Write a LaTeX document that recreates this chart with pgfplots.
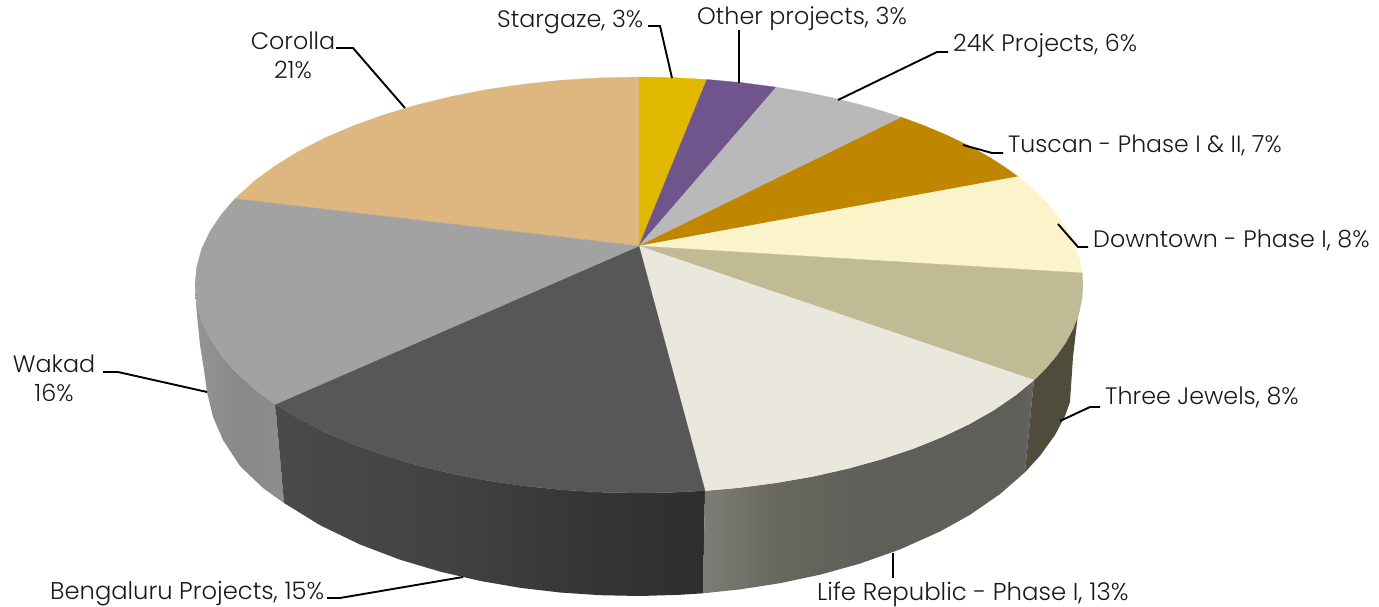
\documentclass[border=0pt]{standalone}
\usepackage{fontspec}
\setmainfont{Poppins}[UprightFont=* Light]
\usepackage{pgfplots}
\pgfplotsset{compat=1.18}
\definecolor{cY}{HTML}{E0B800}
\definecolor{cP}{HTML}{70548C}
\definecolor{cG}{HTML}{B9B9B9}
\definecolor{cB}{HTML}{C08600}
\definecolor{cC}{HTML}{FBF3C9}
\definecolor{cK}{HTML}{C0BB95}
\definecolor{cL}{HTML}{EAE8DD}
\definecolor{cD}{HTML}{575757}
\definecolor{cW}{HTML}{A2A2A2}
\definecolor{cT}{HTML}{DEB680}
\definecolor{cJ}{HTML}{4F4C3C}
\definecolor{wa}{HTML}{949494}\definecolor{wb}{HTML}{888888}\definecolor{wc}{HTML}{8E8E8E}
\definecolor{ba}{HTML}{4A4A4A}\definecolor{bb}{HTML}{424242}\definecolor{bc}{HTML}{353535}\definecolor{bd}{HTML}{2E2E2E}
\definecolor{la}{HTML}{7D7D75}\definecolor{lb}{HTML}{68685F}\definecolor{lc}{HTML}{5E5F59}\definecolor{ld}{HTML}{666664}
\pgfdeclarehorizontalshading{wakS}{100bp}{color(0bp)=(wa);color(25bp)=(wa);color(50bp)=(wb);color(75bp)=(wc);color(100bp)=(wc)}
\pgfdeclarehorizontalshading{benS}{100bp}{color(0bp)=(ba);color(25bp)=(ba);color(45bp)=(bb);color(62bp)=(bc);color(75bp)=(bd);color(100bp)=(bd)}
\pgfdeclarehorizontalshading{lifS}{100bp}{color(0bp)=(la);color(25bp)=(la);color(36bp)=(lb);color(50bp)=(lc);color(73bp)=(lc);color(75bp)=(ld);color(100bp)=(ld)}
\tikzset{lead/.style={black,line width=1.9pt,no markers},
 lab/.style={anchor=base west,inner sep=0pt,font=\fontsize{23.8}{27}\selectfont,text=black!90},
 labc/.style={anchor=base,inner sep=0pt,font=\fontsize{23.8}{27}\selectfont,text=black!90}}
\begin{document}
\begin{tikzpicture}
\useasboundingbox (0,0) rectangle (1379pt,607pt);
\begin{axis}[scale only axis,width=1379pt,height=607pt,xmin=0,xmax=1379,ymin=0,ymax=607,y dir=reverse,hide axis,clip=false,at={(0,0)},anchor=south west]
% sides
\addplot[draw=none,shade,shading=wakS] coordinates {(195,290)(196.7,303.1)(201.7,321.1)(210.1,338.8)(221.8,356.1)(236.6,372.9)(254.5,389)(275.3,404.3)(284,503)(263,488)(240,466)(223,440)(213,417)(207,392)(204,370)(200,345)(197,315)} --cycle;
\addplot[draw=none,shade,shading=benS] coordinates {(275.3,404.3)(298.9,418.7)(325,432.1)(353.6,444.3)(384.3,455.4)(417,465.1)(451.4,473.5)(487.2,480.5)(524.1,485.9)(561.9,489.8)(600.3,492.2)(639,493)(670,492.5)(705,490.7)(703,593.3)(680,594.8)(640,596)(600,595.2)(560,592.5)(520,587.8)(480,580.9)(440,571.6)(400,559.7)(360,544.5)(320,525.2)(284,503)} --cycle;
\addplot[draw=none,shade,shading=lifS] coordinates {(705,490.7)(738.9,487.7)(776.2,482.8)(812.5,476.5)(847.5,468.6)(880.8,459.4)(912.4,448.9)(941.8,437.1)(968.9,424.2)(993.6,410.2)(1015.5,395.2)(1033.9,380.1)(1025,472.2)(1000,494.1)(970,514.8)(940,531.5)(900,549.4)(860,563.6)(820,574.7)(780,583.2)(740,589.4)(703,593.3)} --cycle;
\addplot[draw=none,fill=cJ] coordinates {(1080,305)(1078.7,314)(1073.3,328.2)(1065.8,342.3)(1056.2,356.1)(1044.6,369.6)(1033.9,380.1)(1025,472.2)(1040,455.8)(1055,435)(1065,416)(1070,402)(1073,357)(1078,314)} --cycle;
% top wedges
\addplot[draw=cT,line width=.3pt,fill=cT] coordinates {(639,246)(235,198.7)(254.5,181)(275.3,165.7)(298.9,151.3)(325,137.9)(353.6,125.7)(384.3,114.6)(417,104.9)(451.4,96.5)(487.2,89.5)(524.1,84.1)(561.9,80.2)(600.3,77.8)(639,77)} --cycle;
\addplot[draw=cY,line width=.3pt,fill=cY] coordinates {(639,246)(639,77)(673.1,77.6)(706.9,79.5)} --cycle;
\addplot[draw=cP,line width=.3pt,fill=cP] coordinates {(639,246)(706.9,79.5)(741.9,82.7)(776.2,87.2)} --cycle;
\addplot[draw=cG,line width=.3pt,fill=cG] coordinates {(639,246)(776.2,87.2)(805.3,92.1)(833.6,98)(861,104.9)(880.8,110.6)(901.8,117.4)} --cycle;
\addplot[draw=cB,line width=.3pt,fill=cB] coordinates {(639,246)(901.8,117.4)(924.4,125.7)(947.4,135.4)(968.9,145.8)(988.9,156.9)(1004.9,167.2)(1018,176.6)} --cycle;
\addplot[draw=cC,line width=.3pt,fill=cC] coordinates {(639,246)(1018,176.6)(1034.6,190.6)(1047.7,203.7)(1058.8,217.3)(1067.9,231.2)(1074.8,245.3)(1079.7,259.6)(1082.3,273)} --cycle;
\addplot[draw=cK,line width=.3pt,fill=cK] coordinates {(639,246)(1082.3,273)(1083,285)(1081.9,299.5)(1078.7,314)(1073.3,328.2)(1065.8,342.3)(1056.2,356.1)(1044.6,369.6)(1033.9,380.1)} --cycle;
\addplot[draw=cL,line width=.3pt,fill=cL] coordinates {(639,246)(1033.9,380.1)(1015.5,395.2)(993.6,410.2)(968.9,424.2)(941.8,437.1)(912.4,448.9)(880.8,459.4)(847.5,468.6)(812.5,476.5)(776.2,482.8)(738.9,487.7)(705,490.7)} --cycle;
\addplot[draw=cD,line width=.3pt,fill=cD] coordinates {(639,246)(705,490.7)(670,492.5)(639,493)(600.3,492.2)(561.9,489.8)(524.1,485.9)(487.2,480.5)(451.4,473.5)(417,465.1)(384.3,455.4)(353.6,444.3)(325,432.1)(298.9,418.7)(275.3,404.3)} --cycle;
\addplot[draw=cW,line width=.3pt,fill=cW] coordinates {(639,246)(275.3,404.3)(254.5,389)(236.6,372.9)(221.8,356.1)(210.1,338.8)(201.7,321.1)(196.7,303.1)(195,285)(196.7,266.9)(201.7,248.9)(210.1,231.2)(221.8,213.9)(235,198.7)} --cycle;
% leader lines
\addplot[lead] coordinates {(648,26)(660,26)(672,78)};
\addplot[lead] coordinates {(739,30)(739,83)};
\addplot[lead] coordinates {(948,52)(937,52)(838,100)};
\addplot[lead] coordinates {(1003,153)(992,153)(963,145)};
\addplot[lead] coordinates {(1088,247)(1078,247)(1058,224)};
\addplot[lead] coordinates {(1100,407)(1090,407)(1060,421)};
\addplot[lead] coordinates {(893,553)(893,578)};
\addplot[lead] coordinates {(327,598)(340,598)(463,577)};
\addplot[lead] coordinates {(103,372)(118,372)(207,392)};
\addplot[lead] coordinates {(336,48)(353,48)(405,108)};
% labels
\node[lab] at (axis cs:497,28) {Stargaze, 3\%};
\node[lab] at (axis cs:697,25) {Other projects, 3\%};
\node[lab] at (axis cs:953,52) {24K Projects, 6\%};
\node[lab,font=\fontsize{23.6}{27}\selectfont] at (axis cs:1008,153) {Tuscan - Phase I \& II, 7\%};
\node[lab] at (axis cs:1093,247) {Downtown - Phase I, 8\%};
\node[lab] at (axis cs:1105,404) {Three Jewels, 8\%};
\node[lab,font=\fontsize{24.4}{27}\selectfont] at (axis cs:817,600) {Life Republic - Phase I, 13\%};
\node[lab,font=\fontsize{24.2}{27}\selectfont] at (axis cs:50,599) {Bengaluru Projects, 15\%};
\node[labc] at (axis cs:54,372) {Wakad};
\node[labc] at (axis cs:54,401) {16\%};
\node[labc] at (axis cs:293,50) {Corolla};
\node[labc] at (axis cs:293,79) {21\%};
\end{axis}
\end{tikzpicture}
\end{document}
